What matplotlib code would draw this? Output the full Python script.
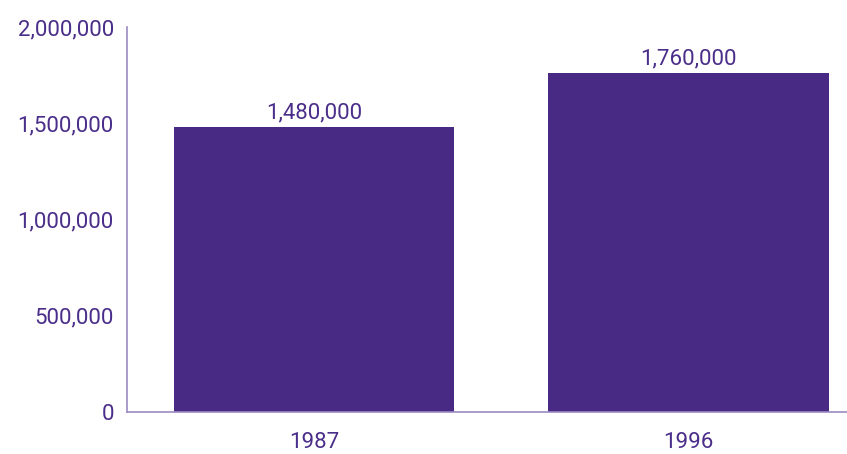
import matplotlib
matplotlib.use("Agg")
import matplotlib.pyplot as plt
from matplotlib.ticker import FuncFormatter

years = ["1987", "1996"]
values = [1480000, 1760000]
y_ticks = [0, 500000, 1000000, 1500000, 2000000]

bar_color = "#482a85"
text_color = "#4b2e8a"
axis_color = "#9b8ac2"

plt.rcParams["font.family"] = ["Roboto", "DejaVu Sans"]

fig = plt.figure(figsize=(8.47, 4.54), dpi=100)
ax = fig.add_axes([127 / 847, 1 - 412 / 454, 720 / 847, (412 - 27) / 454])

x = list(range(len(years)))
ax.bar(x, values, width=0.75, color=bar_color)

for xi, v in zip(x, values):
    ax.annotate(f"{v:,}", xy=(xi, v), xytext=(0, 6.5), textcoords="offset points",
                ha="center", va="baseline", fontsize=16, color=text_color)

ax.set_xlim(-0.5, 1.424)
ax.set_ylim(0, 2000000)
ax.set_xticks(x)
ax.set_xticklabels(years)
ax.set_yticks(y_ticks)
ax.yaxis.set_major_formatter(FuncFormatter(lambda v, p: f"{int(v):,}"))

for side in ["top", "right"]:
    ax.spines[side].set_visible(False)
for side in ["left", "bottom"]:
    ax.spines[side].set_color(axis_color)
    ax.spines[side].set_linewidth(1.2)

ax.tick_params(axis="both", length=0, labelsize=16, labelcolor=text_color)
ax.tick_params(axis="y", pad=9.5)
ax.tick_params(axis="x", pad=14.5)

fig.savefig("out.png", dpi=100)
